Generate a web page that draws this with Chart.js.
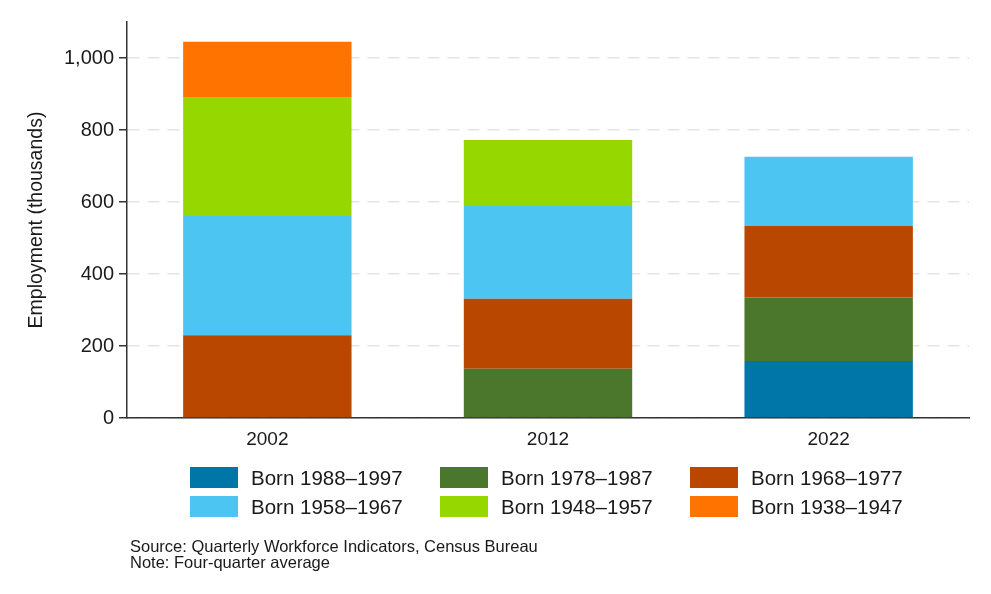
<!DOCTYPE html>
<html>
<head>
<meta charset="utf-8">
<script src="https://cdn.jsdelivr.net/npm/chart.js@4"></script>
<style>
    body { margin: 0; background: #fff; }
    #wrap { position: relative; width: 991px; height: 594px; font-family: Arial, "Liberation Sans", sans-serif; color: #1a1a1a; }
    #chart { position: absolute; left: 0; top: 0; }
    #legend { position: absolute; left: 190px; top: 467px; display: grid; grid-template-columns: 250px 250px 250px; row-gap: 8px; }
    .leg-item { display: flex; align-items: center; height: 21px; }
    .leg-box { width: 48px; height: 21px; margin-right: 13px; }
    .leg-text { font-size: 20.5px; white-space: nowrap; }
    #note { position: absolute; left: 130px; top: 539px; font-size: 16.5px; line-height: 15.5px; }
</style>
</head>
<body>
<div id="wrap">
    <canvas id="chart" width="991" height="594"></canvas>
    <div id="legend"></div>
    <div id="note">Source: Quarterly Workforce Indicators, Census Bureau<br>Note: Four-quarter average</div>
</div>
<script>
const years = ['2002', '2012', '2022'];
const cohorts = ['Born 1988–1997', 'Born 1978–1987', 'Born 1968–1977', 'Born 1958–1967', 'Born 1948–1957', 'Born 1938–1947'];

// employment in thousands, bottom of the stack first
const born1988 = [null, null, 158];
const born1978 = [null, 137, 177];
const born1968 = [230, 194, 198];
const born1958 = [331, 258, 193];
const born1948 = [331, 183, null];
const born1938 = [153, null, null];

const yTicks = [0, 200, 400, 600, 800, 1000];

const colors = ['#0076a8', '#4a772b', '#b94700', '#4cc5f2', '#97d700', '#ff7300'];
const series = [born1988, born1978, born1968, born1958, born1948, born1938];
const font = 'Arial, "Liberation Sans", sans-serif';

const datasets = series.map((vals, i) => ({
    label: cohorts[i],
    data: vals,
    backgroundColor: colors[i],
    borderWidth: 0,
    barPercentage: 0.6,
    categoryPercentage: 1
}));

const chart = new Chart(document.getElementById('chart'), {
    type: 'bar',
    data: { labels: years, datasets: datasets },
    options: {
        responsive: false,
        animation: false,
        layout: { padding: { top: 22, right: 22, left: 0, bottom: 136 } },
        plugins: { legend: { display: false }, tooltip: { enabled: false } },
        scales: {
            x: {
                stacked: true,
                grid: { display: false, drawTicks: false },
                border: { display: true, color: '#333', width: 1.5 },
                ticks: { color: '#1a1a1a', padding: 10, font: { family: font, size: 19 } },
                afterFit: (s) => { s.height = 40; }
            },
            y: {
                stacked: true,
                min: 0,
                max: 1100,
                bounds: 'data',
                afterBuildTicks: (s) => { s.ticks = yTicks.map(v => ({ value: v })); },
                grid: { color: '#e4e4e4', lineWidth: 1.5, tickColor: '#333', tickLength: 8, tickWidth: 1.5 },
                border: { display: true, color: '#333', width: 1.5, dash: [12, 8] },
                ticks: { color: '#1a1a1a', padding: 5, font: { family: font, size: 20 } },
                title: {
                    display: true,
                    text: 'Employment (thousands)',
                    color: '#1a1a1a',
                    font: { family: font, size: 19.5 },
                    padding: { top: 25, bottom: 0 }
                },
                afterFit: (s) => { s.width = 127; }
            }
        }
    }
});

let html = '';
chart.data.datasets.forEach(function (ds) {
    html += `<div class="leg-item"><div class="leg-box" style="background:${ds.backgroundColor}"></div><span class="leg-text">${ds.label}</span></div>`;
});
document.getElementById('legend').innerHTML = html;
</script>
</body>
</html>
